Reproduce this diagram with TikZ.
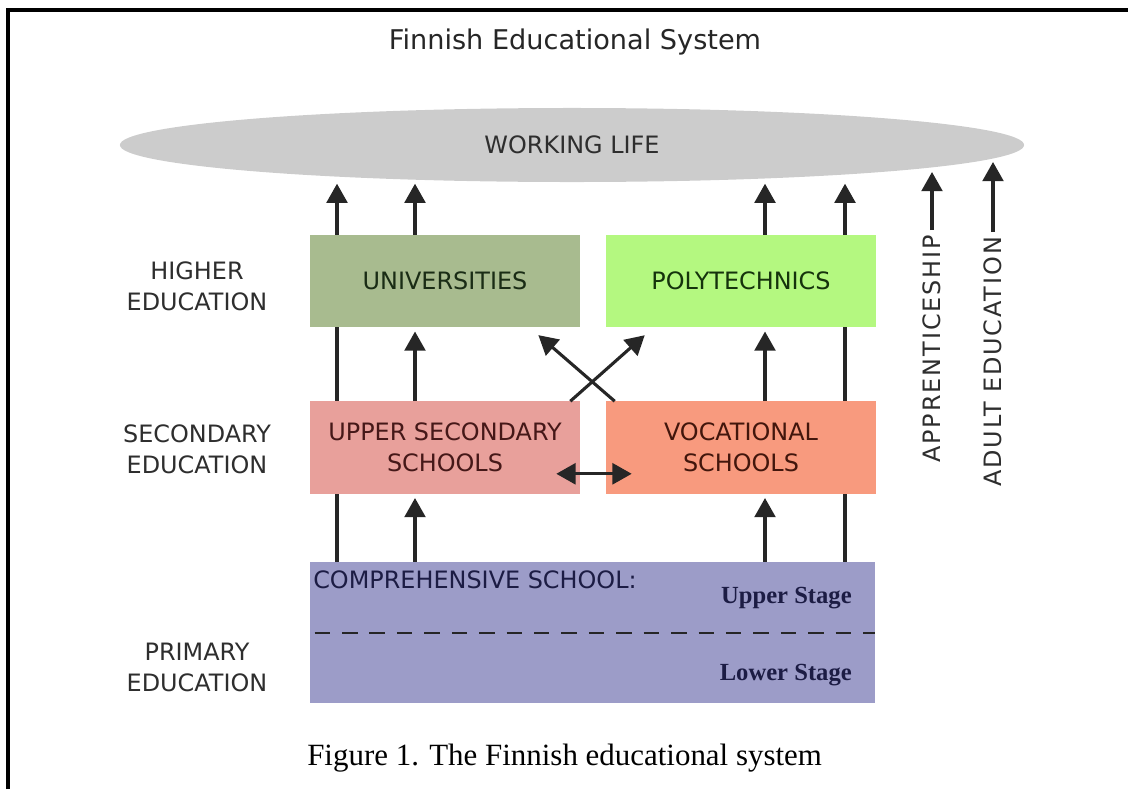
\documentclass[tikz,border=0pt]{standalone}
\usepackage{fontspec}
\setmainfont{Liberation Serif}
\newfontfamily\labelfont{DejaVu Sans}
\newfontfamily\sidefont[LetterSpace=8]{DejaVu Sans}
\usetikzlibrary{arrows.meta,calc,shapes.geometric,backgrounds}

\definecolor{lifegray}{HTML}{CCCCCC}
\definecolor{unigreen}{HTML}{A8BB8F}
\definecolor{polygreen}{HTML}{B4F880}
\definecolor{upperred}{HTML}{E8A09B}
\definecolor{vocred}{HTML}{F89A7E}
\definecolor{compblue}{HTML}{9C9CC8}
\definecolor{labelgray}{HTML}{2E2E2E}
\definecolor{unitext}{HTML}{1A2C15}
\definecolor{polytext}{HTML}{15330C}
\definecolor{uppertext}{HTML}{451818}
\definecolor{voctext}{HTML}{42160C}
\definecolor{comptext}{HTML}{1C1C44}

\begin{document}
\begin{tikzpicture}[x=0.025cm, y=-0.025cm, >={Triangle[length=4.8mm,width=5.2mm]},
  up/.style={->, line width=2.2pt, black!85, shorten >=3pt},
  both/.style={<->, line width=2.2pt, black!85},
  level/.style={font=\labelfont\fontsize{17}{22}\selectfont, text=labelgray, align=center},
  side/.style={font=\sidefont\fontsize{17}{22}\selectfont, text=labelgray, rotate=90, anchor=east},
  school/.style={minimum width=6.75cm, minimum height=2.3cm, inner sep=0pt, align=center,
    font=\labelfont\fontsize{17}{22}\selectfont}]
\useasboundingbox (0,0) rectangle (1128,789);
\draw[line width=2.6pt] (8,789) -- (8,10) -- (1128,10);

% title and working life
\node[font=\labelfont\fontsize{19.3}{23}\selectfont, text=black!85] (title) at (575,42) {Finnish Educational System};
\node[ellipse, fill=lifegray, minimum width=22.6cm, minimum height=1.85cm, inner sep=0pt, level] (life) at (572,145) {WORKING LIFE};

% school boxes
\node[school, fill=unigreen, text=unitext] (univ) at (445,281) {UNIVERSITIES};
\node[school, fill=polygreen, text=polytext] (poly) at (741,281) {POLYTECHNICS};
\node[school, fill=upperred, text=uppertext] (upper) at (445,447.5) {UPPER SECONDARY\\SCHOOLS};
\node[school, fill=vocred, text=voctext] (voc) at (741,447.5) {VOCATIONAL\\SCHOOLS};
\node[fill=compblue, minimum width=14.125cm, minimum height=3.525cm, inner sep=0pt] (comp) at (592.5,632.5) {};
\node[anchor=west, inner sep=0pt, font=\labelfont\fontsize{17}{20}\selectfont, text=comptext] (compname) at (313,580) {COMPREHENSIVE SCHOOL:};
\node[anchor=east, inner sep=0pt, font=\bfseries\fontsize{17.5}{20}\selectfont, text=comptext] (upstage) at (852,598) {Upper Stage};
\node[anchor=east, inner sep=0pt, font=\bfseries\fontsize{17.5}{20}\selectfont, text=comptext] (lowstage) at (852,675) {Lower Stage};
\draw[line width=1.5pt, black!85, dash pattern=on 11pt off 8.5pt] ($(comp.west)+(5,0.5)$) -- ($(comp.east)+(0,0.5)$);

% levels
\node[level] (higher) at (197,286) {HIGHER\\EDUCATION};
\node[level] (secondary) at (197,449) {SECONDARY\\EDUCATION};
\node[level] (primary) at (197,667) {PRIMARY\\EDUCATION};

% routes
\coordinate (c1) at (337,0);
\coordinate (c2) at (415,0);
\coordinate (c3) at (765,0);
\coordinate (c4) at (845,0);
\begin{scope}[on background layer]
\draw[up, shorten >=1pt] (comp.north -| c1) -- (life.south -| c1);
\draw[up, shorten >=1pt] (comp.north -| c4) -- (life.south -| c4);
\end{scope}
\foreach \c/\hi/\sec in {c2/univ/upper, c3/poly/voc} {
  \draw[up, shorten >=1pt] (\hi.north -| \c) -- (life.south -| \c);
  \draw[up] (\sec.north -| \c) -- (\hi.south -| \c);
  \draw[up] (comp.north -| \c) -- (\sec.south -| \c);
}
\draw[up, shorten >=8.5pt] ($(upper.north east)+(-10,0)$) -- ($(poly.south west)+(48,0)$);
\draw[up, shorten >=8.5pt] ($(voc.north west)+(9,0)$) -- ($(univ.south east)+(-51,0)$);
\draw[both] ($(upper.south east)+(-24,-20)$) -- ($(voc.south west)+(26,-20)$);

% side routes
\node[side] (appr) at (932,230) {APPRENTICESHIP};
\node[side] (adult) at (993,232) {ADULT EDUCATION};
\coordinate (apprtip) at (932,172);
\coordinate (adulttip) at (993,162);
\draw[up, shorten >=0pt] (appr.east) -- (apprtip);
\draw[up, shorten >=0pt] (adult.east) -- (adulttip);

\node[anchor=west, inner sep=0pt, font=\fontsize{22}{26}\selectfont] (caption) at (307,758) {Figure 1. The Finnish educational system};
\end{tikzpicture}
\end{document}
